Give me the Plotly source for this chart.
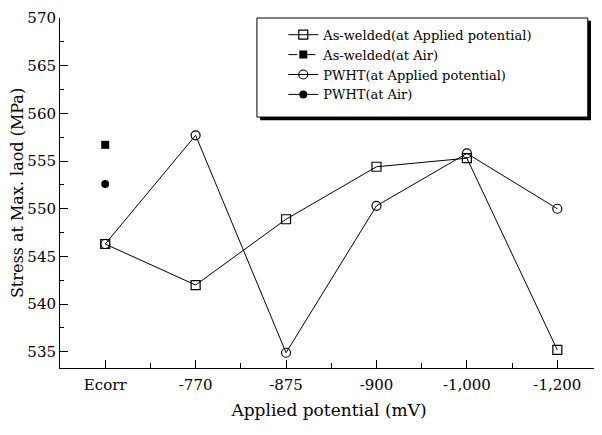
import plotly.graph_objects as go

# categories on the x axis
potentials = ['Ecorr', '-770', '-875', '-900', '-1,000', '-1,200']
x_idx = list(range(len(potentials)))

# stress at max. load (MPa)
as_welded_applied = [546.3, 542.0, 548.9, 554.4, 555.3, 535.2]
pwht_applied = [546.3, 557.7, 534.9, 550.3, 555.8, 550.0]
as_welded_air = [556.7]
pwht_air = [552.6]

font = 'DejaVu Serif, serif'

fig = go.Figure()

fig.add_trace(go.Scatter(x=x_idx, y=as_welded_applied, mode='lines+markers',
                         name='As-welded(at Applied potential)',
                         line=dict(color='black', width=1),
                         marker=dict(symbol='square-open', size=9, color='black', line=dict(width=1.2))))
fig.add_trace(go.Scatter(x=[0], y=as_welded_air, mode='lines+markers',
                         name='As-welded(at Air)',
                         line=dict(color='black', width=1, dash='dash'),
                         marker=dict(symbol='square', size=8, color='black')))
fig.add_trace(go.Scatter(x=x_idx, y=pwht_applied, mode='lines+markers',
                         name='PWHT(at Applied potential)',
                         line=dict(color='black', width=1),
                         marker=dict(symbol='circle-open', size=9, color='black', line=dict(width=1.2))))
fig.add_trace(go.Scatter(x=[0], y=pwht_air, mode='lines+markers',
                         name='PWHT(at Air)',
                         line=dict(color='black', width=1),
                         marker=dict(symbol='circle', size=8, color='black')))

# legend box with shadow
fig.add_shape(type='rect', xref='paper', yref='paper', x0=0.372, x1=0.987, y0=0.708, y1=0.992,
              fillcolor='black', line=dict(width=0), layer='below')
fig.add_shape(type='rect', xref='paper', yref='paper', x0=0.366, x1=0.981, y0=0.717, y1=1.0,
              fillcolor='white', line=dict(color='black', width=1), layer='below')

# page body has an 8px margin, so the figure is shrunk to fit the window
fig.update_layout(
    width=594, height=427,
    margin=dict(l=52, r=4, t=10, b=67),
    paper_bgcolor='white', plot_bgcolor='white',
    font=dict(family=font, size=15, color='black'),
    showlegend=True,
    legend=dict(x=0.415, y=0.995, xanchor='left', yanchor='top',
                bgcolor='rgba(0,0,0,0)', borderwidth=0,
                font=dict(family=font, size=13), tracegroupgap=0),
    xaxis=dict(range=[-0.5, 5.45], tickvals=x_idx, ticktext=potentials, automargin=False,
               showgrid=False, zeroline=False, showline=True, linecolor='black', linewidth=1,
               ticks='inside', ticklen=8, tickcolor='black', ticklabelstandoff=3,
               minor=dict(dtick=0.5, tick0=0.5, ticks='inside', ticklen=5, tickcolor='black'),
               title=dict(text='Applied potential (mV)', font=dict(size=17), standoff=11)),
    yaxis=dict(range=[533.3, 570], tickvals=[535, 540, 545, 550, 555, 560, 565, 570], automargin=False,
               showgrid=False, zeroline=False, showline=True, linecolor='black', linewidth=1,
               ticks='inside', ticklen=8, tickcolor='black', ticklabeloverflow='allow',
               minor=dict(dtick=2.5, tick0=535, ticks='inside', ticklen=4, tickcolor='black'),
               title=dict(text='Stress at Max. laod (MPa)', font=dict(size=16), standoff=1)),
)

fig.write_html('out.html')
